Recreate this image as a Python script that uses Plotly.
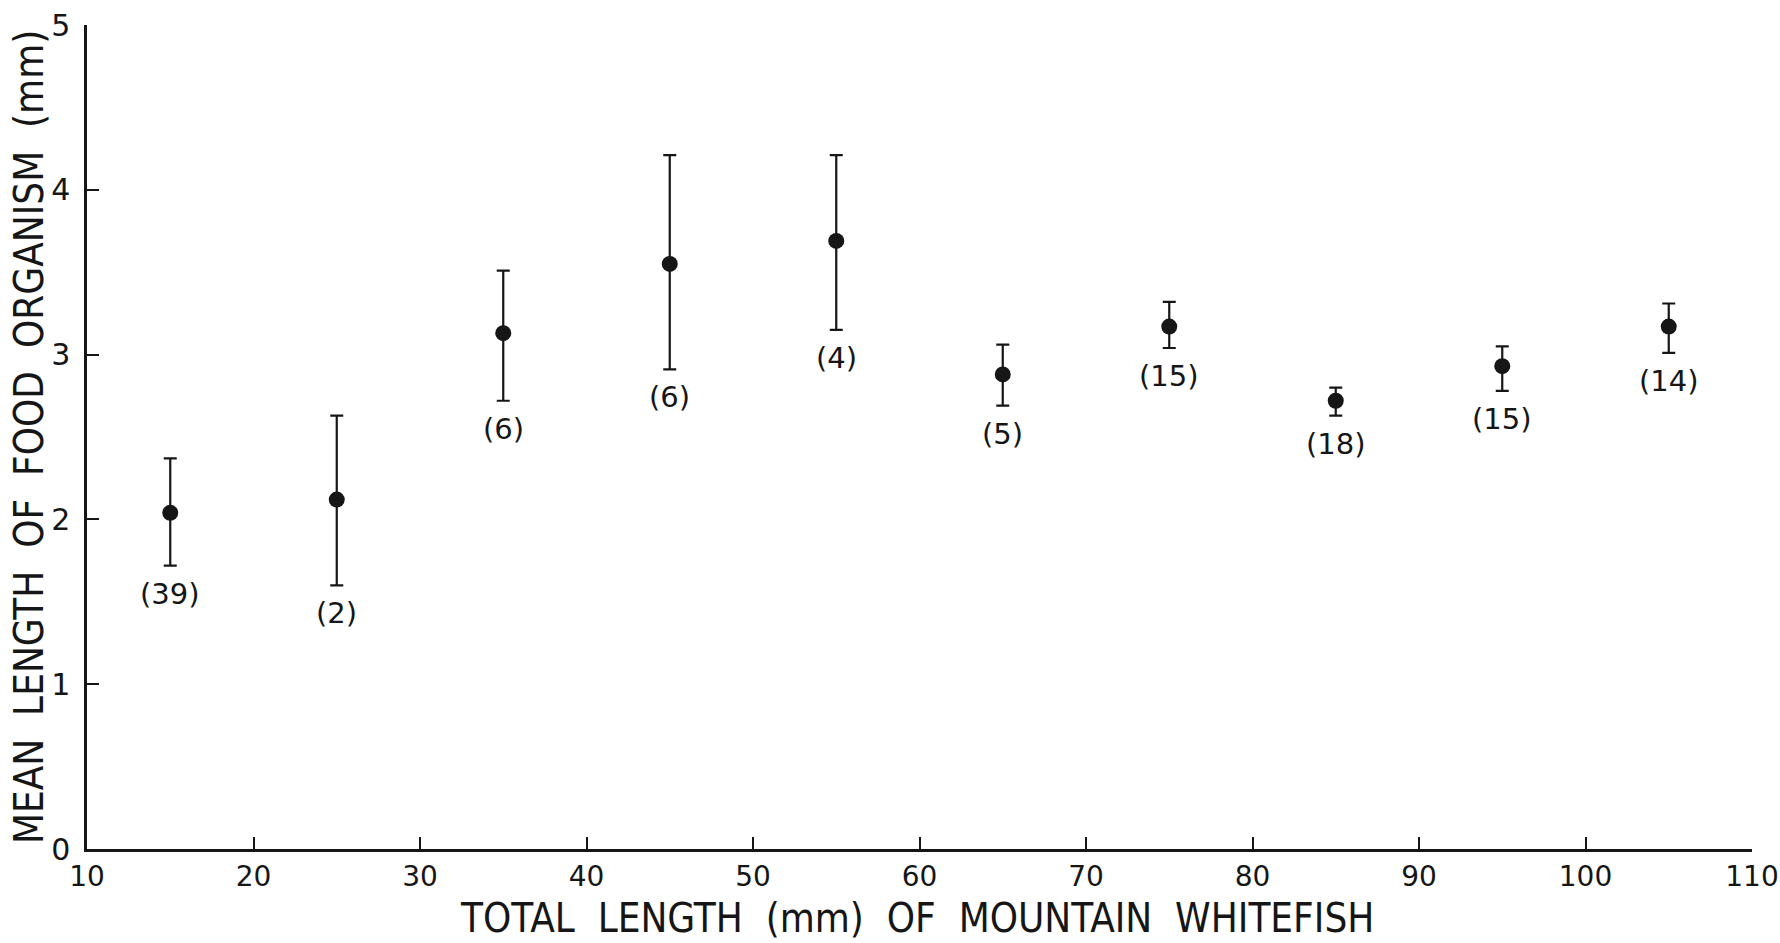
import plotly.graph_objects as go

# Data
total_length = [15, 25, 35, 45, 55, 65, 75, 85, 95, 105]
mean_len = [2.04, 2.12, 3.13, 3.55, 3.69, 2.88, 3.17, 2.72, 2.93, 3.17]
upper = [2.37, 2.63, 3.51, 4.21, 4.21, 3.06, 3.32, 2.80, 3.05, 3.31]
lower = [1.72, 1.60, 2.72, 2.91, 3.15, 2.69, 3.04, 2.63, 2.78, 3.01]
n_fish = ["(39)", "(2)", "(6)", "(6)", "(4)", "(5)", "(15)", "(18)", "(15)", "(14)"]

x_ticks = [10, 20, 30, 40, 50, 60, 70, 80, 90, 100, 110]
y_ticks = [0, 1, 2, 3, 4, 5]

x_title = "TOTAL  LENGTH  (mm)  OF  MOUNTAIN  WHITEFISH"
y_title = "MEAN  LENGTH  OF  FOOD  ORGANISM  (mm)"

TITLE_FONT = "DejaVu Sans Condensed, Liberation Sans Narrow, Roboto Condensed, sans-serif"
NUM_FONT = "DejaVu Sans, Verdana, sans-serif"
INK = "#161616"

err_plus = [u - m for u, m in zip(upper, mean_len)]
err_minus = [m - l for m, l in zip(mean_len, lower)]

fig = go.Figure()
fig.add_trace(go.Scatter(
    x=total_length, y=mean_len, mode="markers",
    marker=dict(color=INK, size=16),
    error_y=dict(type="data", symmetric=False, array=err_plus, arrayminus=err_minus,
                 color=INK, thickness=2.2, width=6.5),
    showlegend=False,
))

for xv, lv, lab in zip(total_length, lower, n_fish):
    fig.add_annotation(x=xv, y=lv, text=lab, showarrow=False,
                       yanchor="top", yshift=-9,
                       font=dict(family=NUM_FONT, size=29, color=INK))

# axis titles
fig.add_annotation(xref="paper", yref="paper", x=0.4985, y=-0.1135,
                   xanchor="center", yanchor="bottom", showarrow=False,
                   text=x_title, font=dict(family=TITLE_FONT, size=40, color=INK))
fig.add_annotation(xref="paper", yref="paper", x=-0.0348, y=0.5,
                   xanchor="center", yanchor="middle", showarrow=False, textangle=-90,
                   text=y_title, font=dict(family=TITLE_FONT, size=40, color=INK))

fig.update_layout(
    width=1780, height=943,
    margin=dict(l=87, r=28, t=25, b=94),
    paper_bgcolor="white", plot_bgcolor="white",
    font=dict(family=NUM_FONT, color=INK),
)
fig.update_xaxes(
    range=[10, 110], tickvals=x_ticks, ticktext=[str(v) for v in x_ticks],
    showgrid=False, zeroline=False, showline=True, linecolor=INK, linewidth=2.5,
    ticks="inside", ticklen=12, tickwidth=2, tickcolor=INK,
    tickfont=dict(family=NUM_FONT, size=28, color=INK), ticklabelstandoff=1,
    ticklabeloverflow="allow", automargin=False,
)
fig.update_yaxes(
    range=[0, 5], tickvals=y_ticks, ticktext=[str(v) for v in y_ticks],
    showgrid=False, zeroline=False, showline=True, linecolor=INK, linewidth=2.5,
    ticks="inside", ticklen=12, tickwidth=2, tickcolor=INK,
    tickfont=dict(family=NUM_FONT, size=30, color=INK), ticklabelstandoff=8,
    ticklabeloverflow="allow", automargin=False,
)

fig.write_html("out.html")
